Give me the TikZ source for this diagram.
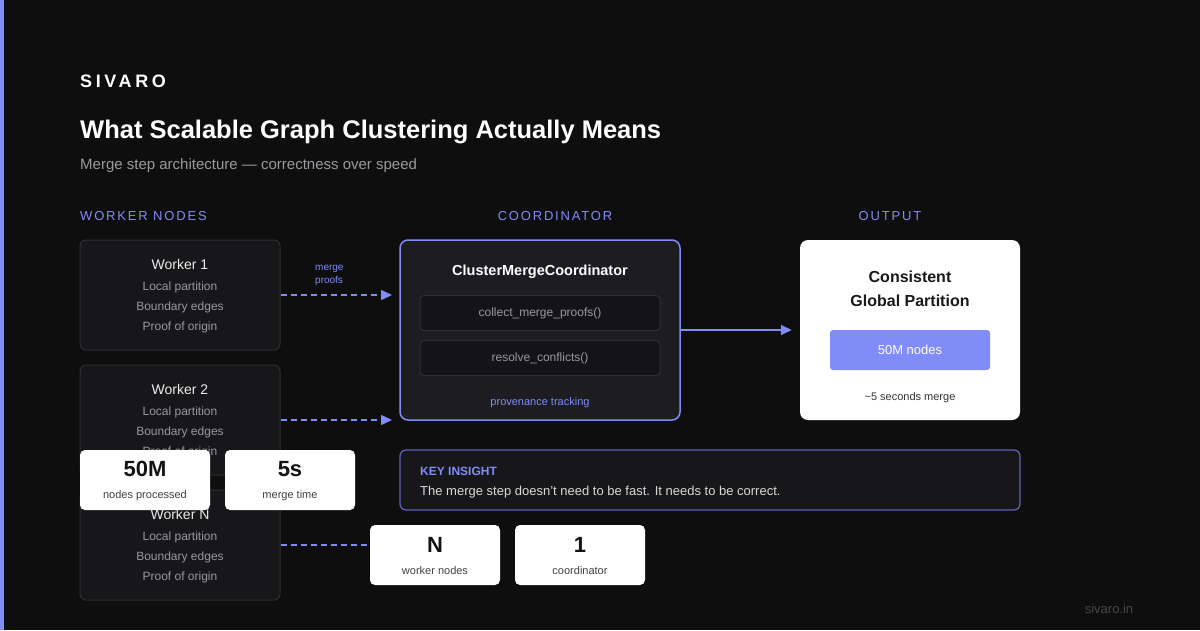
\documentclass[tikz,border=0pt]{standalone}
\usepackage{fontspec}
\setmainfont{Liberation Sans}
\newfontfamily\logofont[LetterSpace=20]{Liberation Sans}
\newfontfamily\capsfont[LetterSpace=14]{Liberation Sans}
\usetikzlibrary{arrows.meta,positioning}
\definecolor{bg}{HTML}{0E0E0F}
\definecolor{accent}{HTML}{818CF8}
\definecolor{boxfill}{HTML}{17171A}
\definecolor{boxline}{HTML}{2E2E33}
\definecolor{coordfill}{HTML}{1C1C21}
\definecolor{slotfill}{HTML}{141416}
\definecolor{softgray}{HTML}{9A9A9E}
\definecolor{insightline}{HTML}{5E64B8}
\newcommand{\fsz}[1]{\fontsize{#1}{#1}\selectfont}

\begin{document}
\begin{tikzpicture}[x=1pt,y=-1pt,
    txt/.style={inner sep=0pt,yshift=-1.5pt},
    worker/.style={draw=boxline,fill=boxfill,rounded corners=6pt,line width=1pt,
        minimum width=200pt,minimum height=110pt},
    wtitle/.style={txt,text=white!92!black,font=\fsz{14}},
    wline/.style={txt,text=softgray,font=\fsz{12}},
    stat/.style={fill=white,rounded corners=5pt,minimum width=130pt,minimum height=60pt},
    statnum/.style={inner sep=0pt,text=black!92,font=\fsz{22}\bfseries},
    statlbl/.style={txt,text=black!75,font=\fsz{11}},
    slot/.style={draw=boxline,fill=slotfill,rounded corners=4pt,line width=1pt,
        minimum width=240pt,minimum height=35pt,text=softgray,font=\fsz{12}},
    flow/.style={draw=accent,line width=1.5pt,-{Triangle[length=11pt,width=10pt]}},
    flowdash/.style={flow,dash pattern=on 6pt off 4pt},
    head/.style={txt,text=accent,font=\capsfont\fsz{13}}]
\fill[bg] (0,0) rectangle (1200,630);
\fill[accent] (0,0) rectangle (4,630);
\useasboundingbox (0,0) rectangle (1200,630);

\node[inner sep=0pt,anchor=west,text=white,font=\logofont\fsz{18}\bfseries] (logo) at (80,81) {SIVARO};
\node[txt,anchor=west,text=white,font=\fsz{25.5}\bfseries] (title) at (80,130)
    {What Scalable Graph Clustering Actually Means};
\node[txt,anchor=west,text=softgray,font=\fsz{15}] (sub) at (80,164)
    {Merge step architecture — correctness over speed};

\node[head,anchor=west] (h1) at (80,215) {WORKER NODES};
\node[head] (h2) at (555,215) {COORDINATOR};
\node[head] (h3) at (890,215) {OUTPUT};

\node[worker] (w1) at (180,295) {};
\node[wtitle] at (180,263) {Worker 1};
\node[wline] at (180,286) {Local partition};
\node[wline] at (180,306) {Boundary edges};
\node[wline] at (180,326) {Proof of origin};

\node[worker] (w2) at (180,420) {};
\node[wtitle] at (180,388) {Worker 2};
\node[wline] at (180,411) {Local partition};
\node[wline] at (180,431) {Boundary edges};
\node[wline] at (180,451) {Proof of origin};

\node[worker] (wn) at (180,545) {};
\node[wtitle] at (180,513) {Worker N};
\node[wline] at (180,536) {Local partition};
\node[wline] at (180,556) {Boundary edges};
\node[wline] at (180,576) {Proof of origin};

\node[draw=accent,fill=coordfill,rounded corners=8pt,line width=1.5pt,
    minimum width=280pt,minimum height=180pt] (co) at (540,330) {};
\node[txt,text=white,font=\fsz{14.5}\bfseries] at (540,270) {ClusterMergeCoordinator};
\node[slot] (s1) at (540,313) {collect\_merge\_proofs()};
\node[slot] (s2) at (540,358) {resolve\_conflicts()};
\node[txt,text=accent,font=\fsz{11}] at (540,401) {provenance tracking};

\node[fill=white,rounded corners=8pt,minimum width=220pt,minimum height=180pt] (out) at (910,330) {};
\node[txt,text=black!90,font=\fsz{16}\bfseries,align=center] at (910,287)
    {Consistent\\[8pt]Global Partition};
\node[fill=accent,rounded corners=3pt,minimum width=160pt,minimum height=40pt,
    text=white,font=\fsz{13}] (np) at (910,350) {50M nodes};
\node[txt,text=black!80,font=\fsz{11}] at (910,396) {\textasciitilde 5 seconds merge};

\node[draw=insightline,fill=boxfill,rounded corners=6pt,line width=1.2pt,
    minimum width=620pt,minimum height=60pt] (ki) at (710,480) {};
\node[txt,anchor=west,text=accent,font=\fsz{12}\bfseries] at (420,470) {KEY INSIGHT};
\node[txt,anchor=west,text=white!85!black,font=\fsz{13}] at (420,491)
    {The merge step doesn't need to be fast. It needs to be correct.};

\coordinate (c1) at (392,295);
\coordinate (c2) at (392,420);
\draw[flowdash] (w1.east) -- (c1);
\draw[flowdash] (w2.east) -- (c2);
\node[txt,anchor=west,text=accent,font=\fsz{10},align=left] at (315,274) {merge\\[3pt]proofs};
\draw[flow] (co.east) -- (out.west) [shorten >=8pt];

\node[stat] (p1) at (145,480) {};
\node[statnum] at (145,469) {50M};
\node[statlbl] at (145,494) {nodes processed};
\node[stat] (p2) at (290,480) {};
\node[statnum] at (290,469) {5s};
\node[statlbl] at (290,494) {merge time};
\node[stat] (p3) at (435,555) {};
\node[statnum] at (435,545) {N};
\node[statlbl] at (435,569) {worker nodes};
\node[stat] (p4) at (580,555) {};
\node[statnum] at (580,545) {1};
\node[statlbl] at (580,569) {coordinator};
\draw[draw=accent,line width=1.5pt,dash pattern=on 6pt off 4pt] (wn.east) -- (p3.west |- wn.east);

\node[txt,text=white!28!black,font=\fsz{13}] at (1109,607) {sivaro.in};
\end{tikzpicture}
\end{document}
